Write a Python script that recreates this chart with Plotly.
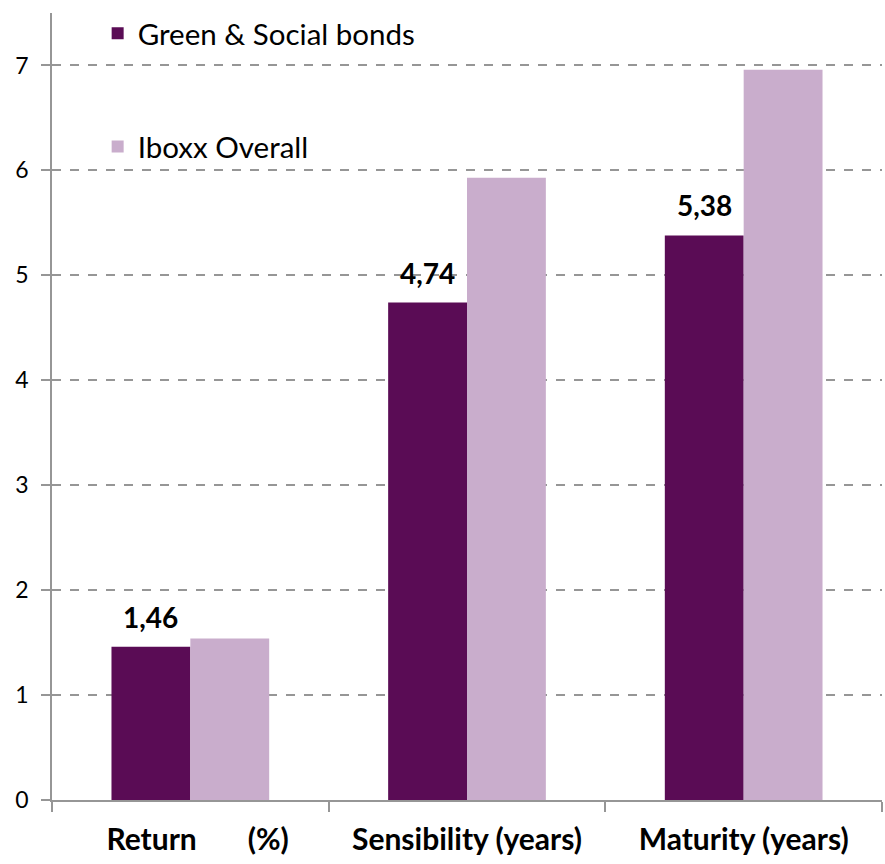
import plotly.graph_objects as go

categories = ["\u00a0" * 2 + "Return" + "\u00a0" * 7 + "(%)", "Sensibility (years)", "Maturity (years)"]
green_social = [1.46, 4.74, 5.38]
iboxx_overall = [1.54, 5.93, 6.96]
y_ticks = [0, 1, 2, 3, 4, 5, 6, 7]

DARK = "#5A0C55"
LIGHT = "#C9ADCC"
GRID = "#969696"
FONT = "Lato"

W, H = 885, 864
M = dict(l=52, r=3, t=13, b=64)
BARGAP = 0.43

fig = go.Figure()
fig.add_trace(go.Bar(x=categories, y=green_social, name="Green & Social bonds",
                     marker=dict(color=DARK, line=dict(width=0)), legendgroup="a"))
fig.add_trace(go.Bar(x=categories, y=iboxx_overall, name="Iboxx Overall",
                     marker=dict(color=LIGHT, line=dict(width=0)), legendgroup="b"))

plot_w = W - M["l"] - M["r"]
bar_px = plot_w / len(categories) * (1 - BARGAP) / 2
for c, v in zip(categories, green_social):
    fig.add_annotation(x=c, y=v, xref="x", yref="y", text=f"{v:.2f}".replace(".", ","),
                       showarrow=False, yanchor="bottom", xshift=-bar_px / 2, yshift=11,
                       font=dict(family=FONT, size=28, color="black", weight="bold"))

fig.update_layout(
    width=W, height=H, margin=M,
    paper_bgcolor="white", plot_bgcolor="white",
    barmode="group", bargap=BARGAP, bargroupgap=0,
    font=dict(family=FONT, color="black"),
    legend=dict(x=0.055, y=1.007, xanchor="left", yanchor="top",
                font=dict(family=FONT, size=29.5, color="black"),
                tracegroupgap=72, bgcolor="rgba(0,0,0,0)"),
    showlegend=True,
)
fig.update_xaxes(
    type="category", showline=True, linecolor=GRID, linewidth=1.5,
    ticks="outside", tickson="boundaries", ticklen=10, tickcolor=GRID, tickwidth=1.5,
    tickfont=dict(family=FONT, size=30, color="black", weight="bold"),
    ticklabelstandoff=12, showgrid=False, zeroline=False,
)
fig.update_yaxes(
    range=[0, 7.5], tickvals=y_ticks, showline=True, linecolor=GRID, linewidth=1.5,
    ticks="outside", ticklen=9, tickcolor=GRID, tickwidth=1.5,
    tickfont=dict(family=FONT, size=23, color="black"),
    showgrid=True, gridcolor=GRID, gridwidth=1.5, griddash="dash",
    zeroline=False, ticklabelstandoff=8,
)
fig.write_html("out.html")
